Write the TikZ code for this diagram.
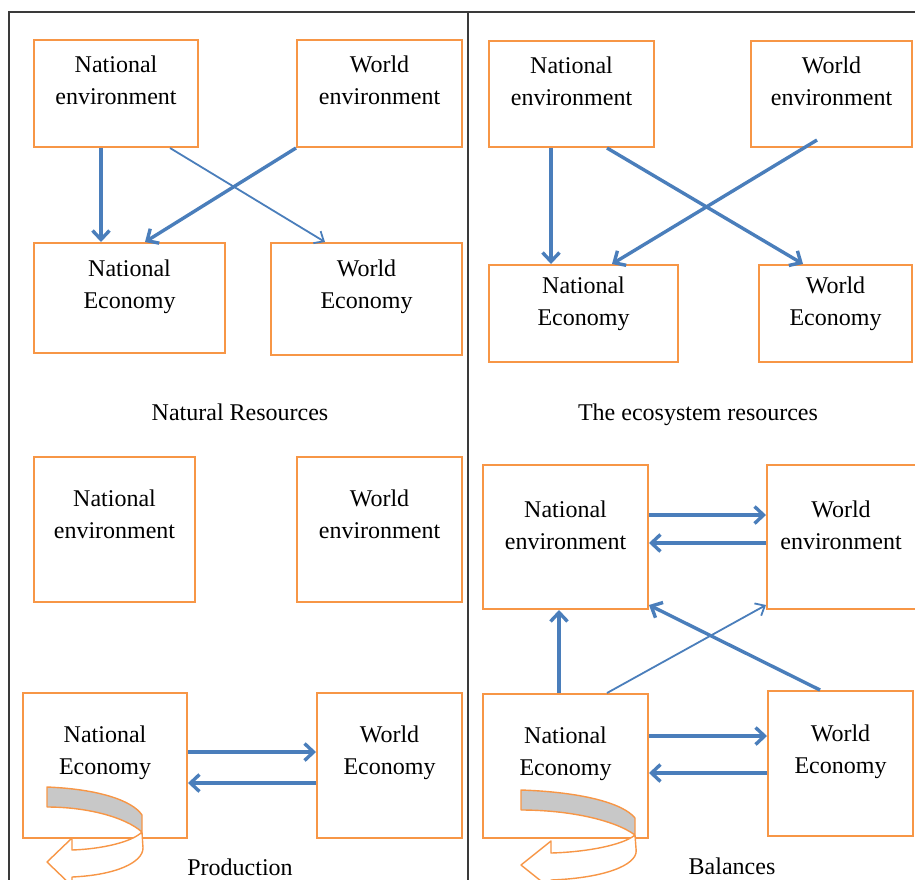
\documentclass[tikz,border=0pt]{standalone}
\usepackage{fontspec}
\setmainfont{Liberation Serif}
\usepackage{tikz}
\usetikzlibrary{arrows.meta, positioning}
\definecolor{boxorange}{HTML}{F79646}
\definecolor{arrblue}{HTML}{4A7EBB}
\definecolor{bandgray}{HTML}{C8C8C8}
\definecolor{framegray}{HTML}{3A3A3A}

\begin{document}
\begin{tikzpicture}[x=1pt, y=-1pt,
    box/.style={draw=boxorange, line width=2pt, anchor=north west, inner sep=0pt},
    txt/.style={align=center, inner sep=0pt, font=\fontsize{24}{32}\selectfont},
    caption/.style={anchor=base, inner sep=0pt, font=\fontsize{24}{32}\selectfont},
    arr/.style={-{Straight Barb[length=9pt, width=17pt]}, draw=arrblue, line width=3.4pt},
    arrthin/.style={-{Straight Barb[length=8pt, width=14pt]}, draw=arrblue, line width=1.8pt},
    frame/.style={draw=framegray, line width=2pt},
    band/.style={draw=boxorange, fill=bandgray, line width=1.4pt, line join=round},
    bandtip/.style={draw=boxorange, fill=white, line width=1.4pt, line join=round}]
    \useasboundingbox (0,0) rectangle (915,879);
    \draw[frame] (9,900) -- (9,12) -- (915,12);
    \draw[frame] (468,12) -- (468,900);

    % natural resources
    \node[box, minimum width=164pt, minimum height=107pt] (ne1) at (33,39) {};
    \node[box, minimum width=165pt, minimum height=107pt] (we1) at (296,39) {};
    \node[box, minimum width=191pt, minimum height=110pt] (nc1) at (33,242) {};
    \node[box, minimum width=191pt, minimum height=112pt] (wc1) at (270,242) {};
    \node[txt, below=17pt of ne1.north] (ne1t) {National\\environment};
    \node[txt, below=17pt of we1.north] (we1t) {World\\environment};
    \node[txt, below=18pt of nc1.north] (nc1t) {National\\Economy};
    \node[txt, below=18pt of wc1.north] (wc1t) {World\\Economy};
    \draw[arr] ([xshift=68pt]ne1.south west) -- ([xshift=68pt]nc1.north west);
    \draw[arr] (we1.south west) -- ([xshift=112pt]nc1.north west);
    \draw[arrthin] ([xshift=137pt]ne1.south west) -- ([xshift=55pt]wc1.north west);
    \node[caption] (cap1) at (240,420) {Natural Resources};

    % ecosystem resources
    \node[box, minimum width=165pt, minimum height=106pt] (ne2) at (488,40) {};
    \node[box, minimum width=161pt, minimum height=106pt] (we2) at (750,40) {};
    \node[box, minimum width=189pt, minimum height=97pt] (nc2) at (488,264) {};
    \node[box, minimum width=153pt, minimum height=97pt] (wc2) at (758,264) {};
    \node[txt, below=17pt of ne2.north] (ne2t) {National\\environment};
    \node[txt, below=17pt of we2.north] (we2t) {World\\environment};
    \node[txt, below=13pt of nc2.north] (nc2t) {National\\Economy};
    \node[txt, below=13pt of wc2.north] (wc2t) {World\\Economy};
    \draw[arr] ([xshift=63pt]ne2.south west) -- ([xshift=63pt]nc2.north west);
    \draw[arr] ([xshift=119pt]ne2.south west) -- ([xshift=45pt]wc2.north west);
    \draw[arr] ([xshift=67pt, yshift=8pt]we2.south west) -- ([xshift=124pt]nc2.north west);
    \node[caption] (cap2) at (698,420) {The ecosystem resources};

    % production
    \node[box, minimum width=161pt, minimum height=145pt] (ne3) at (33,456) {};
    \node[box, minimum width=165pt, minimum height=145pt] (we3) at (296,456) {};
    \node[box, minimum width=164pt, minimum height=145pt] (nc3) at (22,692) {};
    \node[box, minimum width=145pt, minimum height=145pt] (wc3) at (316,692) {};
    \node[txt, below=34pt of ne3.north] (ne3t) {National\\environment};
    \node[txt, below=34pt of we3.north] (we3t) {World\\environment};
    \node[txt, below=34pt of nc3.north] (nc3t) {National\\Economy};
    \node[txt, below=34pt of wc3.north] (wc3t) {World\\Economy};
    \draw[arr] ([yshift=-60pt]nc3.north east) -- ([yshift=-60pt]wc3.north west);
    \draw[arr] ([yshift=-91pt]wc3.north west) -- ([yshift=-91pt]nc3.north east);
    \begin{scope}[shift={(47,787)}]
        \path[band] (0,0) .. controls (50,2) and (85,13) .. (95,28) -- (95,45)
            .. controls (78,30) and (40,20) .. (0,20) -- cycle;
        \path[bandtip] (95,45) -- (96,61) .. controls (96,75) and (70,88) .. (25,90)
            -- (25,99) -- (0,75) -- (25,51) -- (25,63) .. controls (55,62) and (85,55) .. (95,45);
    \end{scope}
    \node[caption] (cap3) at (240,875) {Production};

    % balances
    \node[box, minimum width=165pt, minimum height=144pt] (ne4) at (482,464) {};
    \node[box, minimum width=152pt, minimum height=144pt] (we4) at (766,464) {};
    \node[box, minimum width=165pt, minimum height=144pt] (nc4) at (482,693) {};
    \node[box, minimum width=145pt, minimum height=145pt] (wc4) at (767,690) {};
    \node[txt, below=37pt of ne4.north] (ne4t) {National\\environment};
    \node[txt, below=37pt of we4.north, xshift=-2pt] (we4t) {World\\environment};
    \node[txt, below=34pt of nc4.north] (nc4t) {National\\Economy};
    \node[txt, below=35pt of wc4.north] (wc4t) {World\\Economy};
    \draw[arr] ([yshift=-51pt]ne4.north east) -- ([yshift=-51pt]we4.north west);
    \draw[arr] ([yshift=-79pt]we4.north west) -- ([yshift=-79pt]ne4.north east);
    \draw[arr] ([xshift=77pt]nc4.north west) -- ([xshift=77pt]ne4.south west);
    \draw[arrthin] ([xshift=125pt]nc4.north west) -- ([yshift=5pt]we4.south west);
    \draw[arr] ([xshift=53pt]wc4.north west) -- ([yshift=5pt]ne4.south east);
    \draw[arr] ([yshift=-43pt]nc4.north east) -- ([yshift=-46pt]wc4.north west);
    \draw[arr] ([yshift=-83pt]wc4.north west) -- ([yshift=-80pt]nc4.north east);
    \begin{scope}[shift={(521,790)}, xscale=1.2]
        \path[band] (0,0) .. controls (50,2) and (85,13) .. (95,28) -- (95,45)
            .. controls (78,30) and (40,20) .. (0,20) -- cycle;
        \path[bandtip] (95,45) -- (96,61) .. controls (96,75) and (70,88) .. (25,90)
            -- (25,99) -- (0,75) -- (25,51) -- (25,63) .. controls (55,62) and (85,55) .. (95,45);
    \end{scope}
    \node[caption] (cap4) at (732,874) {Balances};
\end{tikzpicture}
\end{document}
